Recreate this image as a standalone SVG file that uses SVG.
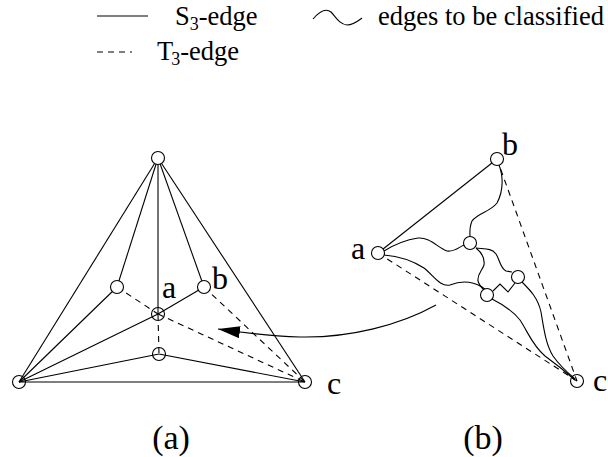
<svg xmlns="http://www.w3.org/2000/svg" width="608" height="457" viewBox="0 0 608 457">
<style>
.e{stroke:#000;stroke-width:1.1;fill:none}
.d{stroke:#000;stroke-width:1.1;fill:none;stroke-dasharray:6 5}
.n{stroke:#000;stroke-width:1.1;fill:#fff}
.o{stroke:#000;stroke-width:1.1;fill:none}
text{font-family:"Liberation Serif","Times New Roman",serif;fill:#000}
.lg{font-size:26.5px}
.lb{font-size:32px}
.cap{font-size:34px}
</style>
<defs>
<marker id="ah" markerWidth="24" markerHeight="12" refX="22" refY="6" orient="auto" markerUnits="userSpaceOnUse">
<path d="M0,0 L22,6 L0,12 Z" fill="#000"/>
</marker>
</defs>
<g id="legend">
<line class="e" x1="97" y1="16" x2="148" y2="16"/>
<text class="lg" x="175" y="25">S<tspan font-size="18" dy="5">3</tspan><tspan dy="-5">-edge</tspan></text>
<path class="e" d="M313,19 C319,12 326,8 331,12 C336,17 339,24 347,25 C353,25 358,21 362,18"/>
<text class="lg" x="378" y="25">edges to be classified</text>
<line class="d" x1="97" y1="52" x2="132" y2="52"/>
<text class="lg" x="157" y="60">T<tspan font-size="18" dx="-2" dy="5">3</tspan><tspan dy="-5">-edge</tspan></text>
</g>
<g id="connectors">
<line class="e" x1="158" y1="158" x2="19" y2="382"/>
<line class="e" x1="158" y1="158" x2="305" y2="382"/>
<line class="e" x1="19" y1="382" x2="305" y2="382"/>
<line class="e" x1="158" y1="158" x2="117" y2="287"/>
<line class="e" x1="158" y1="158" x2="158" y2="314"/>
<line class="e" x1="158" y1="158" x2="204" y2="287"/>
<line class="e" x1="117" y1="287" x2="19" y2="382"/>
<line class="e" x1="158" y1="314" x2="19" y2="382"/>
<line class="e" x1="159" y1="354" x2="19" y2="382"/>
<line class="e" x1="159" y1="354" x2="305" y2="382"/>
<line class="e" x1="158" y1="314" x2="204" y2="287"/>
<line class="d" x1="117" y1="287" x2="158" y2="314"/>
<line class="d" x1="158" y1="314" x2="305" y2="382"/>
<line class="d" x1="204" y1="287" x2="305" y2="382"/>
<line class="d" x1="158" y1="314" x2="159" y2="354"/>
<path class="e" d="M436,305 C400,325 350,338 300,337 C270,336 245,333 218,329" marker-end="url(#ah)"/>
<line class="e" x1="378" y1="253" x2="497" y2="159"/>
<line class="d" x1="497" y1="159" x2="577" y2="381"/>
<line class="d" x1="378" y1="253" x2="577" y2="381"/>
<path class="e" d="M499,165 C503,175 504,190 497,203 C490,212 478,213 472,221 C469,228 470,234 470,237"/>
<path class="e" d="M384,251 C392,246 405,240 418,238 C430,237 438,248 447,251 C455,252 459,247 464,245"/>
<path class="e" d="M384,255 C396,256 410,259 424,268 C434,276 440,287 450,285 C460,281 470,280 482,287 L486,290"/>
<path class="e" d="M476,248 C481,252 485,258 484,265 C482,271 477,274 478,281 C479,285 482,288 484,290"/>
<path class="e" d="M476,248 C484,249 492,248 496,254 C500,260 500,268 506,271 L512,272"/>
<path class="e" d="M515,283 L508,292 L500,284 L493,291"/>
<path class="e" d="M522,282 C530,290 538,298 541,312 C544,330 546,345 553,356 C560,366 568,373 575,379"/>
<path class="e" d="M492,299 C502,304 512,310 520,320 C528,332 532,345 545,356 C556,364 566,372 575,380"/>
</g>
<g id="nodes-a">
<circle id="a-top" class="n" cx="158" cy="158" r="6.5"/>
<circle id="a-bl" class="o" cx="19" cy="382" r="6.5"/>
<circle id="a-br" class="o" cx="305" cy="382" r="6.5"/>
<circle id="a-left" class="n" cx="117" cy="287" r="6.5"/>
<circle id="a-a" class="o" cx="158" cy="314" r="6.5"/>
<circle id="a-b" class="n" cx="204" cy="287" r="6.5"/>
<circle id="a-bot" class="o" cx="159" cy="354" r="6.5"/>
</g>
<g id="nodes-b">
<circle id="b-b" class="n" cx="497" cy="159" r="6.5"/>
<circle id="b-a" class="n" cx="378" cy="253" r="6.5"/>
<circle id="b-c" class="o" cx="577" cy="381" r="6.5"/>
<circle id="b-i1" class="n" cx="470" cy="243" r="6.5"/>
<circle id="b-i2" class="n" cx="518" cy="277" r="6.5"/>
<circle id="b-i3" class="n" cx="487" cy="295" r="6.5"/>
</g>
<g id="labels">
<text class="lb" x="162" y="298">a</text>
<text class="lb" x="212" y="289">b</text>
<text class="lb" x="327" y="394">c</text>
<text class="lb" x="502" y="155">b</text>
<text class="lb" x="351" y="259">a</text>
<text class="lb" x="593" y="391">c</text>
<text class="cap" x="171" y="449" text-anchor="middle">(a)</text>
<text class="cap" x="483" y="449" text-anchor="middle">(b)</text>
</g>
</svg>
